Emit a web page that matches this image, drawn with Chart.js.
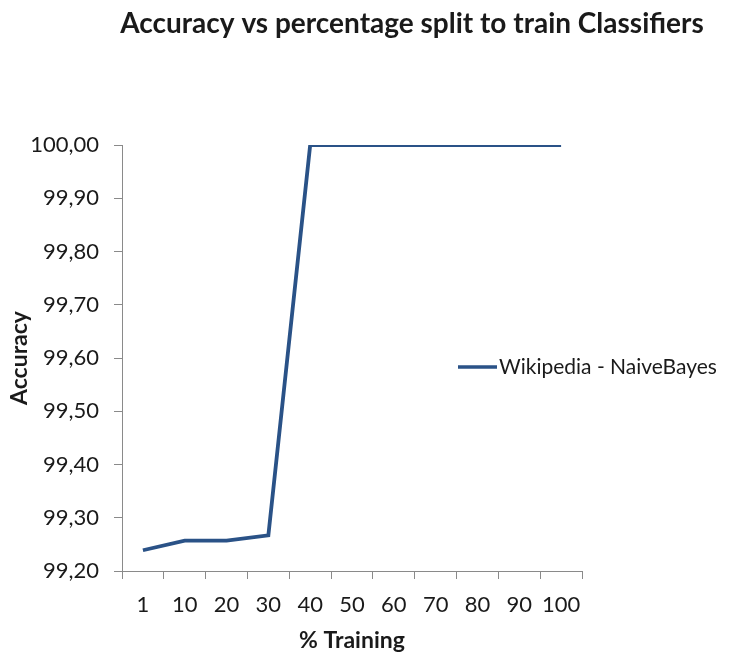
<!DOCTYPE html>
<html lang="en">
<head>
<meta charset="UTF-8">
<title>Accuracy vs percentage split</title>
<script src="https://cdn.jsdelivr.net/npm/chart.js"></script>
<style>
  html, body { margin: 0; padding: 0; background: #fff; }
  #wrap { width: 743px; height: 655px; }
</style>
</head>
<body>
<div id="wrap"><canvas id="accChart" width="743" height="655"></canvas></div>
<script>
// data
const trainingPct = ['1', '10', '20', '30', '40', '50', '60', '70', '80', '90', '100'];
const naiveBayesAcc = [99.239, 99.257, 99.257, 99.267, 100, 100, 100, 100, 100, 100, 100];
const yMin = 99.2;
const yMax = 100.0;
const yStep = 0.1;
const chartTitle = 'Accuracy vs percentage split to train Classifiers';

const FONT = 'Lato, "Open Sans", sans-serif';
const TEXT = '#1a1a1a';
const AXIS = '#8a8a8a';
const LINE = '#2a5287';

// title centred on the whole picture and legend overlaid on the right, like the Excel original
const excelDecor = {
    id: 'excelDecor',
    afterDraw(chart) {
        const ctx = chart.ctx;
        const area = chart.chartArea;
        const ds = chart.data.datasets[0];
        ctx.save();
        ctx.fillStyle = TEXT;
        ctx.font = 'bold 28px ' + FONT;
        ctx.textAlign = 'center';
        ctx.textBaseline = 'middle';
        ctx.fillText(chartTitle, 412, 24);

        const x0 = area.right - 124;
        const y0 = 367;
        ctx.strokeStyle = ds.borderColor;
        ctx.lineWidth = 3.5;
        ctx.lineCap = 'butt';
        ctx.beginPath();
        ctx.moveTo(x0, y0);
        ctx.lineTo(x0 + 39, y0);
        ctx.stroke();
        ctx.font = '21px ' + FONT;
        ctx.textAlign = 'left';
        ctx.fillText(ds.label, x0 + 41, y0);
        ctx.restore();
    }
};

const ctx = document.getElementById('accChart').getContext('2d');
new Chart(ctx, {
    type: 'line',
    data: {
        labels: trainingPct,
        datasets: [{
            label: 'Wikipedia - NaiveBayes',
            data: naiveBayesAcc,
            borderColor: LINE,
            backgroundColor: LINE,
            borderWidth: 3.8,
            pointRadius: 0,
            tension: 0,
            fill: false
        }]
    },
    options: {
        responsive: false,
        animation: false,
        layout: { padding: { left: 5, right: 161, top: 145, bottom: 0 } },
        plugins: {
            legend: { display: false },
            tooltip: { enabled: false },
            title: { display: false }
        },
        scales: {
            x: {
                offset: true,
                grid: { offset: true, drawOnChartArea: false, color: AXIS, tickLength: 8, tickColor: AXIS },
                border: { color: AXIS, width: 1 },
                ticks: { color: TEXT, font: { family: FONT, size: 22 }, padding: 13, maxRotation: 0, autoSkip: false },
                title: {
                    display: true,
                    text: '% Training',
                    color: TEXT,
                    font: { family: FONT, size: 23, weight: 'bold' },
                    padding: { top: 0, bottom: 1 }
                },
                afterFit(scale) { scale.height = 84; }
            },
            y: {
                min: yMin,
                max: yMax,
                grid: { drawOnChartArea: false, color: AXIS, tickLength: 8, tickColor: AXIS },
                border: { color: AXIS, width: 1 },
                ticks: {
                    stepSize: yStep,
                    color: TEXT,
                    font: { family: FONT, size: 22 },
                    padding: 15,
                    callback: v => v.toFixed(2).replace('.', ',')
                },
                title: {
                    display: true,
                    text: 'Accuracy',
                    color: TEXT,
                    font: { family: FONT, size: 23, weight: 'bold' },
                    padding: { top: 1, bottom: 0 }
                },
                afterFit(scale) { scale.width = 117; }
            }
        }
    },
    plugins: [excelDecor]
});
</script>
</body>
</html>
